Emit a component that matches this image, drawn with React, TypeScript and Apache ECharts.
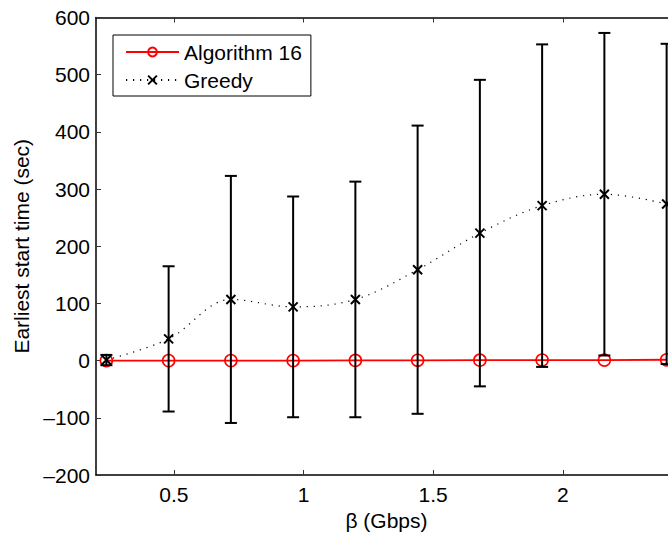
import React, { useEffect, useRef } from "react";
import * as echarts from "echarts";

// Data
const betaValues = [0.24, 0.48, 0.72, 0.96, 1.2, 1.44, 1.68, 1.92, 2.16, 2.4];
const algorithm16Values = [0, 0, 0, 0, 0.3, 0.5, 0.8, 1, 1, 1.5];
const greedyMeans = [1, 38, 107, 94, 107, 159, 223, 271, 291, 274];
const greedyErrors = [9, 127, 216, 193, 206, 252, 268, 282, 282, 280];
const xTickValues = [0.5, 1, 1.5, 2];
const legendNames = ["Algorithm 16", "Greedy"];

const FONT = "'Liberation Sans', Arial, Helvetica, sans-serif";

export default function App() {
  const ref = useRef<HTMLDivElement>(null);

  useEffect(() => {
    if (!ref.current) return;
    const chart = echarts.init(ref.current, null, { renderer: "svg" });

    const algData = betaValues.map((x, i) => [x, algorithm16Values[i]]);
    const greedyData = betaValues.map((x, i) => [x, greedyMeans[i]]);
    const errData = betaValues.map((x, i) => [
      x,
      greedyMeans[i] - greedyErrors[i],
      greedyMeans[i] + greedyErrors[i],
    ]);

    const axisLine = { show: true, onZero: false, lineStyle: { color: "#000", width: 1.5 } };
    const tick = { show: true, inside: true, length: 5, lineStyle: { color: "#333", width: 1 } };

    const option: any = {
      animation: false,
      backgroundColor: "#fff",
      textStyle: { fontFamily: FONT },
      grid: {
        left: 96,
        top: 17.5,
        right: -9,
        bottom: 58,
        containLabel: false,
        outerBoundsMode: "none",
      },
      legend: {
        orient: "vertical",
        left: 113,
        top: 35,
        data: legendNames,
        backgroundColor: "#fff",
        borderColor: "#000",
        borderWidth: 1,
        borderRadius: 0,
        padding: [3, 9, 2, 12],
        itemGap: 0,
        itemWidth: 53,
        itemHeight: 11,
        textStyle: { fontFamily: FONT, fontSize: 21, color: "#000", lineHeight: 28 },
      },
      xAxis: [
        {
          type: "value",
          position: "bottom",
          min: 0.2,
          max: 2.44,
          name: "β (Gbps)",
          nameLocation: "middle",
          nameGap: 34,
          nameTextStyle: { fontFamily: FONT, fontSize: 21, color: "#000" },
          axisLine,
          axisTick: { ...tick, customValues: xTickValues },
          axisLabel: {
            customValues: xTickValues,
            fontFamily: FONT,
            fontSize: 21,
            color: "#000",
            margin: 9,
            formatter: (v: number) => String(v),
          },
          splitLine: { show: false },
        },
        {
          type: "value",
          position: "top",
          min: 0.2,
          max: 2.44,
          axisLine,
          axisTick: { ...tick, customValues: xTickValues },
          axisLabel: { show: false },
          splitLine: { show: false },
        },
      ],
      yAxis: [
        {
          type: "value",
          position: "left",
          min: -200,
          max: 600,
          interval: 100,
          name: "Earliest start time (sec)",
          nameLocation: "middle",
          nameGap: 63,
          nameTextStyle: { fontFamily: FONT, fontSize: 21, color: "#000" },
          axisLine,
          axisTick: tick,
          axisLabel: {
            fontFamily: FONT,
            fontSize: 21,
            color: "#000",
            margin: 6,
            formatter: (v: number) => String(v).replace("-", "\u2013"),
          },
          splitLine: { show: false },
        },
        {
          type: "value",
          position: "right",
          min: -200,
          max: 600,
          interval: 100,
          axisLine,
          axisTick: tick,
          axisLabel: { show: false },
          splitLine: { show: false },
        },
      ],
      series: [
        {
          name: "Algorithm 16",
          type: "line",
          data: algData,
          z: 2,
          symbol: "circle",
          symbolSize: 12,
          itemStyle: { color: "rgba(255,255,255,0)", borderColor: "#ff0000", borderWidth: 1.6 },
          lineStyle: { color: "#ff0000", width: 1.8 },
          emphasis: { disabled: true },
        },
        {
          name: "Greedy-errorbars",
          type: "custom",
          z: 3,
          data: errData,
          encode: { x: 0, y: [1, 2] },
          renderItem: (params: any, api: any) => {
            const x = api.value(0);
            const lo = api.coord([x, api.value(1)]);
            const hi = api.coord([x, api.value(2)]);
            const hw = 6;
            const style = { stroke: "#000", lineWidth: 2 };
            return {
              type: "group",
              children: [
                { type: "line", shape: { x1: lo[0], y1: lo[1], x2: hi[0], y2: hi[1] }, style },
                { type: "line", shape: { x1: lo[0] - hw, y1: lo[1], x2: lo[0] + hw, y2: lo[1] }, style },
                { type: "line", shape: { x1: hi[0] - hw, y1: hi[1], x2: hi[0] + hw, y2: hi[1] }, style },
              ],
            };
          },
        },
        {
          name: "Greedy",
          type: "line",
          data: greedyData,
          z: 4,
          smooth: 0.35,
          symbol: "path://M0,0L10,10M10,0L0,10",
          symbolSize: 9,
          itemStyle: { color: "rgba(0,0,0,0)", borderColor: "#000", borderWidth: 2 },
          lineStyle: { color: "#000", width: 1.2, type: [1.2, 5.8] },
          emphasis: { disabled: true },
        },
      ],
    };

    chart.setOption(option);
    return () => chart.dispose();
  }, []);

  return (
    <div
      ref={ref}
      style={{ position: "absolute", left: 0, top: 0, width: 668, height: 533, background: "#fff" }}
    />
  );
}
